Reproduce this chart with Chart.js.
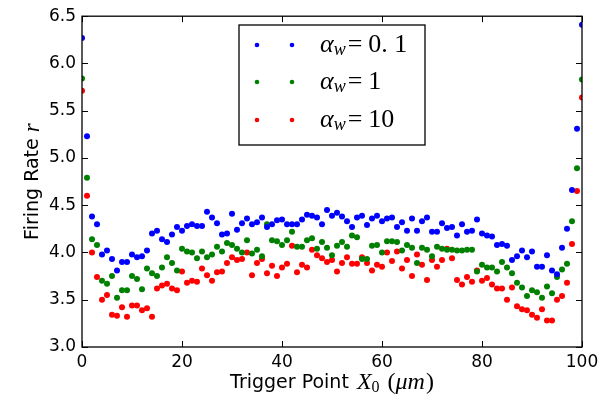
<!DOCTYPE html>
<html>
<head>
<meta charset="utf-8">
<script src="https://cdn.jsdelivr.net/npm/chart.js@4.4.0/dist/chart.umd.min.js"></script>
<style>
  html, body { margin: 0; padding: 0; background: #fff; }
</style>
</head>
<body>
<canvas id="myChart" width="615" height="407"></canvas>
<script>
// Trigger point positions (um)
const triggerPoints = [
  0, 1, 2, 3, 4, 5, 6, 7, 8, 9, 10, 11, 12, 13, 14, 15, 16, 17, 18, 19,
  20, 21, 22, 23, 24, 25, 26, 27, 28, 29, 30, 31, 32, 33, 34, 35, 36, 37, 38, 39,
  40, 41, 42, 43, 44, 45, 46, 47, 48, 49, 50, 51, 52, 53, 54, 55, 56, 57, 58, 59,
  60, 61, 62, 63, 64, 65, 66, 67, 68, 69, 70, 71, 72, 73, 74, 75, 76, 77, 78, 79,
  80, 81, 82, 83, 84, 85, 86, 87, 88, 89, 90, 91, 92, 93, 94, 95, 96, 97, 98, 99, 100
];

// firing rate, alpha_w = 0.1
const rateAlpha01 = [
  6.27, 5.23, 4.38, 4.30, 3.98, 4.02, 3.93, 3.81, 3.90, 3.90,
  3.98, 3.95, 3.96, 4.02, 4.20, 4.23, 4.14, 4.11, 4.19, 4.27,
  4.23, 4.28, 4.30, 4.28, 4.28, 4.43, 4.37, 4.31, 4.19, 4.20,
  4.41, 4.24, 4.31, 4.36, 4.30, 4.32, 4.37, 4.27, 4.30, 4.34,
  4.35, 4.30, 4.30, 4.30, 4.35, 4.40, 4.39, 4.37, 4.30, 4.45,
  4.39, 4.42, 4.38, 4.33, 4.27, 4.37, 4.39, 4.29, 4.36, 4.39,
  4.33, 4.36, 4.37, 4.27, 4.32, 4.23, 4.36, 4.23, 4.33, 4.37,
  4.22, 4.22, 4.31, 4.26, 4.27, 4.18, 4.30, 4.22, 4.23, 4.35,
  4.20, 4.18, 4.17, 4.08, 4.09, 4.07, 3.92, 3.96, 4.02, 3.95,
  4.01, 3.85, 3.85, 3.97, 3.81, 3.77, 4.05, 4.25, 4.66, 5.31, 6.41
];

// firing rate, alpha_w = 1
const rateAlpha1 = [
  5.84, 4.79, 4.14, 4.08, 3.70, 3.67, 3.75, 3.52, 3.60, 3.60,
  3.75, 3.72, 3.61, 3.83, 3.78, 3.75, 3.84, 3.95, 3.89, 3.81,
  4.04, 4.01, 4.00, 3.94, 4.01, 3.95, 3.98, 4.06, 4.01, 4.10,
  4.08, 4.04, 4.00, 4.13, 3.99, 4.03, 3.96, 4.30, 4.13, 4.12,
  4.08, 4.13, 4.22, 4.06, 4.06, 4.13, 4.15, 4.04, 4.11, 4.05,
  3.97, 4.07, 4.11, 4.06, 4.18, 4.16, 3.93, 3.93, 4.07, 4.08,
  4.00, 4.12, 4.12, 4.11, 4.02, 4.08, 4.05, 3.89, 4.05, 4.03,
  3.96, 4.06, 4.04, 4.03, 4.03, 4.02, 4.02, 4.03, 4.03, 3.80,
  3.87, 3.84, 3.84, 3.80, 3.90, 3.84, 3.78, 3.68, 3.63, 3.54,
  3.60, 3.58, 3.52, 3.64, 3.57, 3.74, 3.82, 3.88, 4.33, 4.89, 5.83
];

// firing rate, alpha_w = 10
const rateAlpha10 = [
  5.71, 4.60, 4.00, 3.74, 3.50, 3.55, 3.34, 3.33, 3.42, 3.32,
  3.44, 3.44, 3.39, 3.41, 3.32, 3.62, 3.65, 3.67, 3.62, 3.60,
  3.80, 3.68, 3.70, 3.69, 3.83, 3.76, 3.70, 3.79, 3.80, 3.89,
  3.95, 3.92, 3.93, 4.00, 3.76, 3.89, 3.93, 3.78, 3.86, 3.75,
  3.84, 3.88, 4.07, 3.79, 3.87, 3.84, 4.03, 3.97, 3.94, 3.90,
  3.92, 3.80, 3.89, 3.95, 3.88, 3.88, 3.95, 3.89, 3.81, 3.87,
  3.85, 4.00, 3.91, 4.01, 3.83, 3.92, 3.75, 3.98, 3.87, 3.71,
  3.92, 3.85, 3.92, 4.04, 3.94, 3.71, 3.66, 3.74, 3.69, 3.81,
  3.70, 3.73, 3.66, 3.62, 3.62, 3.50, 3.63, 3.43, 3.40, 3.39,
  3.34, 3.31, 3.40, 3.28, 3.28, 3.50, 3.54, 3.68, 4.09, 4.65, 5.64
];

const alphaValues = ['0.1', '1', '10'];
const seriesColors = ['#0000ff', '#008000', '#ff0000'];
const yTicks = [3.0, 3.5, 4.0, 4.5, 5.0, 5.5, 6.0, 6.5];
const xTicks = [0, 20, 40, 60, 80, 100];

const TICK_FONT = { family: 'DejaVu Sans', size: 17 };
const LABEL_SIZE = 19;

function toPoints(ys) {
  return triggerPoints.map((x, i) => ({ x: x, y: ys[i] }));
}

// frame round the plot and inward ticks on all four sides (matplotlib classic)
const frameTicks = {
  id: 'frameTicks',
  afterDatasetsDraw(chart) {
    const ctx = chart.ctx;
    const a = chart.chartArea;
    const xs = chart.scales.x, ys = chart.scales.y;
    const len = 6;
    ctx.save();
    ctx.strokeStyle = '#000';
    ctx.lineWidth = 1;
    ctx.beginPath();
    xTicks.forEach(v => {
      const px = Math.round(xs.getPixelForValue(v)) + 0.5;
      ctx.moveTo(px, a.bottom); ctx.lineTo(px, a.bottom - len);
      ctx.moveTo(px, a.top); ctx.lineTo(px, a.top + len);
    });
    yTicks.forEach(v => {
      const py = Math.round(ys.getPixelForValue(v)) + 0.5;
      ctx.moveTo(a.left, py); ctx.lineTo(a.left + len, py);
      ctx.moveTo(a.right, py); ctx.lineTo(a.right - len, py);
    });
    ctx.stroke();
    ctx.lineWidth = 1.3;
    ctx.strokeRect(a.left, a.top, a.right - a.left, a.bottom - a.top);
    ctx.restore();
  }
};

// draws a list of [text, font, dy, gapAfter] pieces one after another
function drawPieces(ctx, pieces, x, y) {
  let cx = x;
  pieces.forEach(p => {
    ctx.font = p[1];
    ctx.fillText(p[0], cx, y + (p[2] || 0));
    cx += ctx.measureText(p[0]).width + (p[3] || 0);
  });
}
function piecesWidth(ctx, pieces) {
  let w = 0;
  pieces.forEach(p => { ctx.font = p[1]; w += ctx.measureText(p[0]).width + (p[3] || 0); });
  return w;
}

const axisLabels = {
  id: 'axisLabels',
  afterDraw(chart) {
    const ctx = chart.ctx;
    const a = chart.chartArea;
    ctx.save();
    ctx.fillStyle = '#000';
    ctx.textBaseline = 'middle';
    ctx.textAlign = 'left';
    const sans = LABEL_SIZE + 'px "DejaVu Sans"';
    const ital = 'italic 24px "Liberation Serif"';
    const rom = '24px "Liberation Serif"';
    const sub = '16px "Liberation Serif"';

    const xPieces = [
      ['Trigger Point ', sans, 0, 2], ['X', ital, 0, 0], ['0', sub, 5, 8],
      ['(', rom], ['\u03bcm', ital, 0, 1], [')', rom]
    ];
    const xw = piecesWidth(ctx, xPieces);
    drawPieces(ctx, xPieces, (a.left + a.right) / 2 - xw / 2, 383);

    const yPieces = [['Firing Rate ', sans], ['r', 'italic 23px "Liberation Serif"']];
    const yw = piecesWidth(ctx, yPieces);
    ctx.translate(33, (a.top + a.bottom) / 2);
    ctx.rotate(-Math.PI / 2);
    drawPieces(ctx, yPieces, -yw / 2, 0);
    ctx.restore();
  }
};

const mathLegend = {
  id: 'mathLegend',
  afterDraw(chart) {
    const ctx = chart.ctx;
    const box = { x: 239, y: 25, w: 186, h: 120 };
    const rows = [45, 82, 120];
    ctx.save();
    ctx.fillStyle = '#fff';
    ctx.fillRect(box.x, box.y, box.w, box.h);
    ctx.strokeStyle = '#000';
    ctx.lineWidth = 1.3;
    ctx.strokeRect(box.x, box.y, box.w, box.h);
    chart.data.datasets.forEach((ds, i) => {
      const y = rows[i];
      ctx.fillStyle = ds.backgroundColor;
      [257, 292].forEach(px => {
        ctx.beginPath();
        ctx.arc(px, y, 2.3, 0, Math.PI * 2);
        ctx.fill();
      });
      ctx.fillStyle = '#000';
      ctx.textBaseline = 'middle';
      ctx.textAlign = 'left';
      const val = alphaValues[i].replace('.', '. ');
      drawPieces(ctx, [
        ['\u03b1', 'italic 26px "Liberation Serif"'],
        ['w', 'italic 18px "Liberation Serif"', 5, 2],
        ['=', '26px "Liberation Serif"', 0, 6],
        [val, '26px "Liberation Serif"']
      ], 320, y);
    });
    ctx.restore();
  }
};

const ctx = document.getElementById('myChart').getContext('2d');
const myChart = new Chart(ctx, {
  type: 'scatter',
  data: {
    datasets: [rateAlpha01, rateAlpha1, rateAlpha10].map((ys, i) => ({
      label: '\u03b1_w = ' + alphaValues[i],
      data: toPoints(ys),
      backgroundColor: seriesColors[i],
      borderColor: seriesColors[i],
      borderWidth: 0,
      pointRadius: 3,
      clip: 0
    }))
  },
  options: {
    responsive: false,
    animation: false,
    layout: { padding: { top: 13, right: 33, left: 0, bottom: 0 } },
    plugins: {
      legend: { display: false },
      tooltip: { enabled: false }
    },
    scales: {
      x: {
        type: 'linear',
        min: 0,
        max: 100,
        afterBuildTicks: s => { s.ticks = xTicks.map(v => ({ value: v })); },
        afterFit: s => { s.height = 60; },
        grid: { display: false, drawTicks: false },
        border: { display: false },
        ticks: { font: TICK_FONT, color: '#000', padding: 5, maxRotation: 0 }
      },
      y: {
        min: 3.0,
        max: 6.5,
        afterBuildTicks: s => { s.ticks = yTicks.map(v => ({ value: v })); },
        afterFit: s => { s.width = 82; },
        grid: { display: false, drawTicks: false },
        border: { display: false },
        ticks: { font: TICK_FONT, color: '#000', padding: 6, callback: v => v.toFixed(1) }
      }
    }
  },
  plugins: [frameTicks, axisLabels, mathLegend]
});
</script>
</body>
</html>
